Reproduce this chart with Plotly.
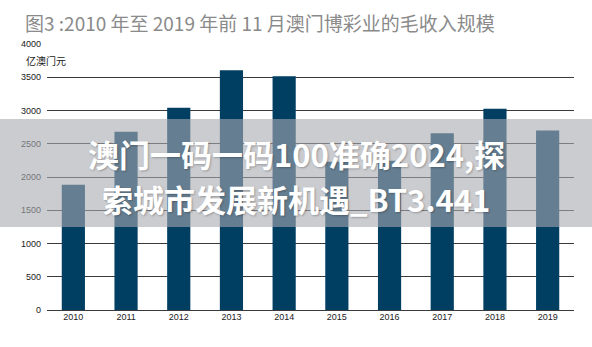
import plotly.graph_objects as go

years = ["2010", "2011", "2012", "2013", "2014", "2015", "2016", "2017", "2018", "2019"]
revenue = [1883, 2679, 3041, 3607, 3515, 2230, 2245, 2657, 3028, 2700]
y_ticks = [0, 500, 1000, 1500, 2000, 2500, 3000, 3500, 4000]

title_text = "图3 :2010 年至 2019 年前 11 月澳门博彩业的毛收入规模"
unit_text = "亿澳门元"
wm_line1 = "澳门一码一码100准确2024,探"
wm_line2 = "索城市发展新机遇_BT3.441"

W, H = 592, 347
L, R, T, B = 47, 18, 44, 37
pw, ph = W - L - R, H - T - B

def px_x(x):
    return (x - L) / pw

def px_y(y):
    return (H - B - y) / ph

fig = go.Figure()
fig.add_trace(go.Bar(
    x=years, y=revenue,
    marker=dict(color="#003e62", line=dict(width=0)),
    width=0.44,
    hoverinfo="x+y",
))

tick_font = dict(family="Liberation Sans Narrow, Arial Narrow, sans-serif", size=9, color="#222222")

fig.update_layout(
    width=W, height=H,
    margin=dict(l=L, r=R, t=T, b=B),
    paper_bgcolor="white", plot_bgcolor="white",
    showlegend=False,
    font=dict(family="Noto Sans CJK SC, sans-serif"),
    xaxis=dict(
        showgrid=False, showline=False, zeroline=False,
        tickfont=tick_font, ticks="", ticklen=0,
    ),
    yaxis=dict(
        range=[0, 4000], tickvals=y_ticks, ticktext=[str(v) for v in y_ticks],
        showgrid=True, gridcolor="#3a3a3a", gridwidth=1.4,
        zeroline=True, zerolinecolor="#3a3a3a", zerolinewidth=1.4,
        showline=False, tickfont=tick_font, ticks="", ticklabelstandoff=5,
    ),
)

fig.add_annotation(
    text=title_text, xref="paper", yref="paper",
    x=px_x(23), y=px_y(23), xanchor="left", yanchor="middle",
    showarrow=False,
    font=dict(family="Noto Sans CJK SC, sans-serif", size=19, color="#8a8a8a"),
)
fig.add_annotation(
    text=unit_text, xref="paper", yref="paper",
    x=px_x(24), y=px_y(60), xanchor="left", yanchor="middle",
    showarrow=False,
    font=dict(family="Noto Sans CJK SC, sans-serif", size=10, color="#222222"),
)

# translucent overlay band
fig.add_shape(
    type="rect", xref="paper", yref="paper",
    x0=px_x(0), x1=px_x(W), y0=px_y(227), y1=px_y(119),
    fillcolor="rgba(168,170,176,0.6)", line=dict(width=0), layer="above",
)

wm_font = dict(family="Noto Sans CJK SC, sans-serif", size=31, color="white",
               weight="bold", shadow="1px 1px 2px rgba(0,0,0,0.25)")
fig.add_annotation(
    text=wm_line1, xref="paper", yref="paper",
    x=px_x(296), y=px_y(153), xanchor="center", yanchor="middle",
    showarrow=False, font=wm_font,
)
fig.add_annotation(
    text=wm_line2, xref="paper", yref="paper",
    x=px_x(296), y=px_y(199), xanchor="center", yanchor="middle",
    showarrow=False, font=wm_font,
)

fig.write_html("out.html")
